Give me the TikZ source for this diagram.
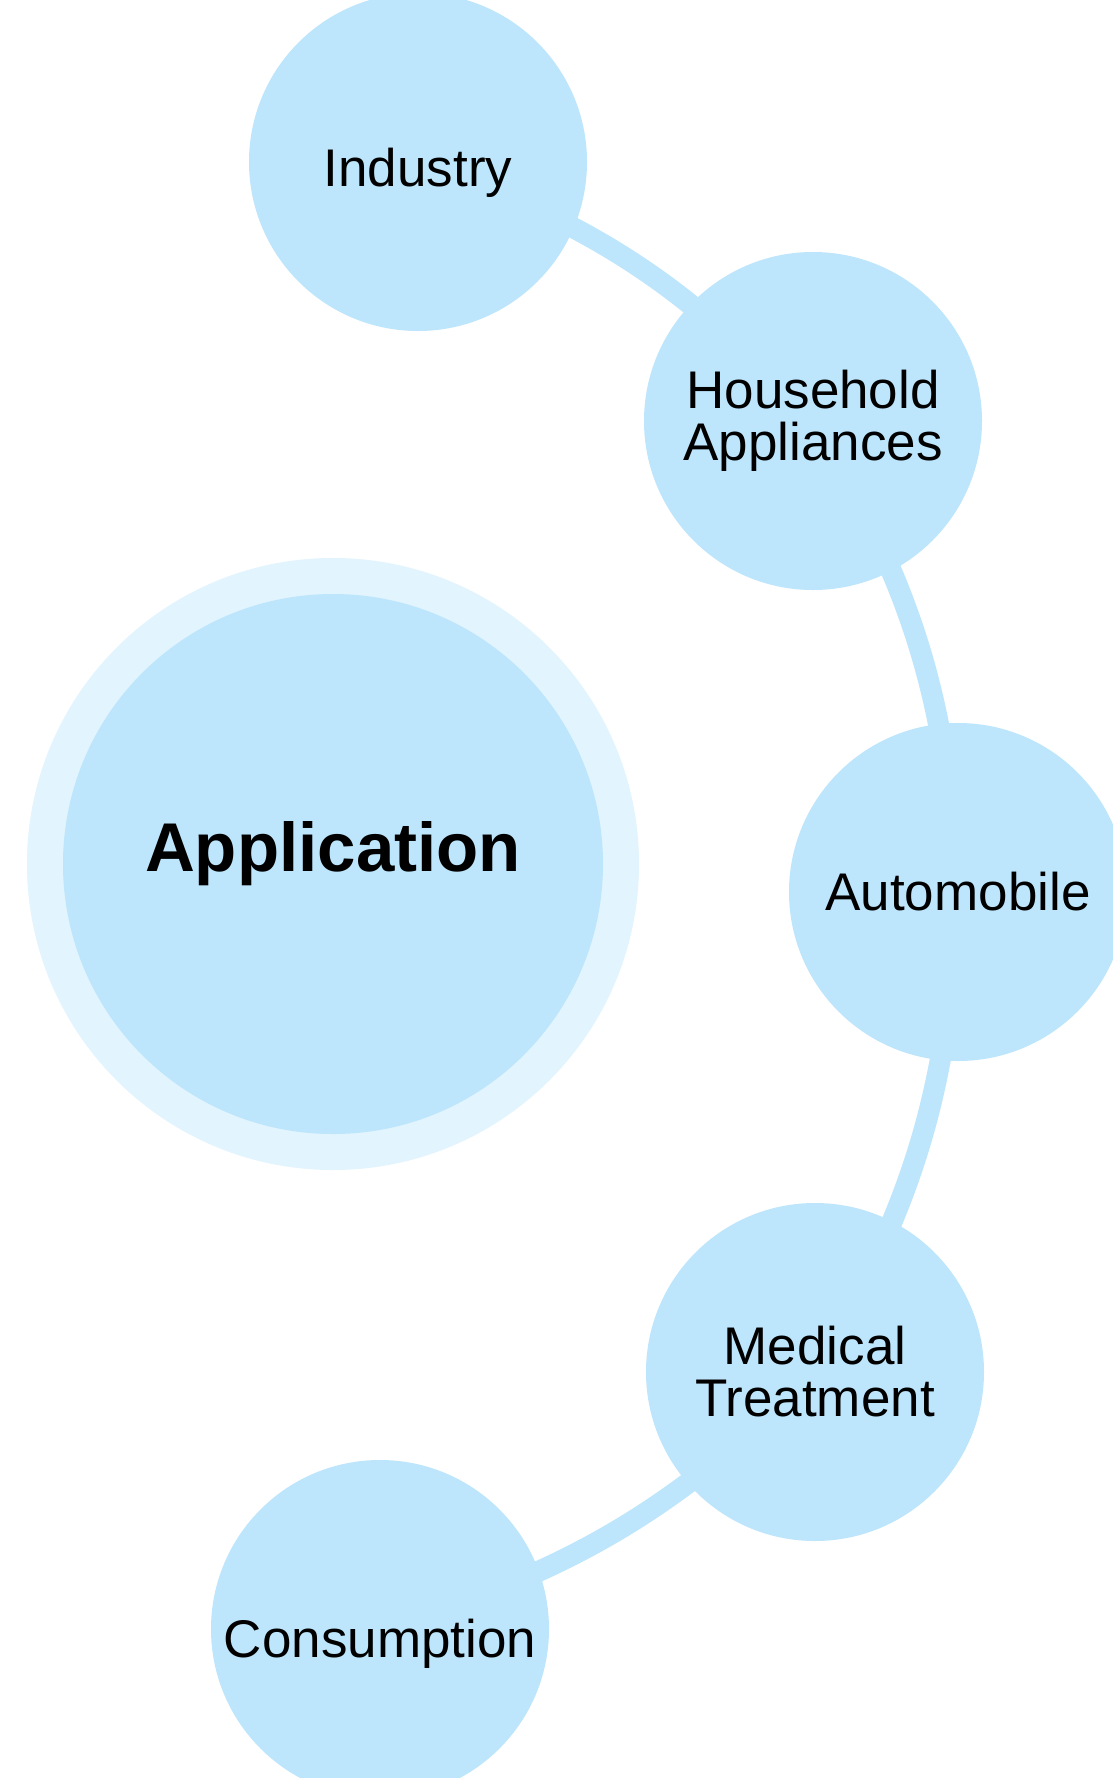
\documentclass[tikz,border=0pt]{standalone}
\usepackage{fontspec}
\setmainfont{Liberation Sans}
\pgfdeclarelayer{paper}
\pgfdeclarelayer{edges}
\pgfsetlayers{paper,edges,main}
\definecolor{bubble}{HTML}{BDE6FC}
\definecolor{ring}{HTML}{E2F4FD}
\tikzset{
  bubblenode/.style={circle, fill=bubble, inner sep=0pt, minimum size=338pt,
    align=center, font=\fontsize{53}{52}\selectfont, text=black},
  conn/.style={draw=bubble, line width=21pt},
}
\begin{document}
\begin{tikzpicture}[x=1pt,y=-1pt]
\useasboundingbox (0,0) rectangle (1112,1778);
\begin{pgfonlayer}{paper}
  \fill[white] (0,0) rectangle (1112,1778);
\end{pgfonlayer}
% central bubble
\node[circle, fill=ring, inner sep=0pt, minimum size=612pt] (appring) at (333,864) {};
\node[circle, fill=bubble, inner sep=0pt, minimum size=540pt] (app) at (333,864) {};
\node[font=\fontsize{69}{69}\selectfont\bfseries, inner sep=0pt] (apptext) at (333,854) {Application};
% satellites
\node[bubblenode, text height=59pt] (ind) at (418,162) {Industry};
\node[bubblenode] (hh) at (813,421) {Household\\Appliances};
\node[bubblenode] (auto) at (958,892) {Automobile};
\node[bubblenode] (med) at (815,1372) {Medical\\Treatment};
\node[bubblenode, text height=68pt] (cons) at (380,1629) {Consumption};
\begin{pgfonlayer}{edges}
  \draw[conn] (ind.center) to[bend left=14] (hh.center);
  \draw[conn] (hh.center) to[bend left=14] (auto.center);
  \draw[conn] (auto.center) to[bend left=14] (med.center);
  \draw[conn] (med.center) to[bend left=14] (cons.center);
\end{pgfonlayer}
\end{tikzpicture}
\end{document}
